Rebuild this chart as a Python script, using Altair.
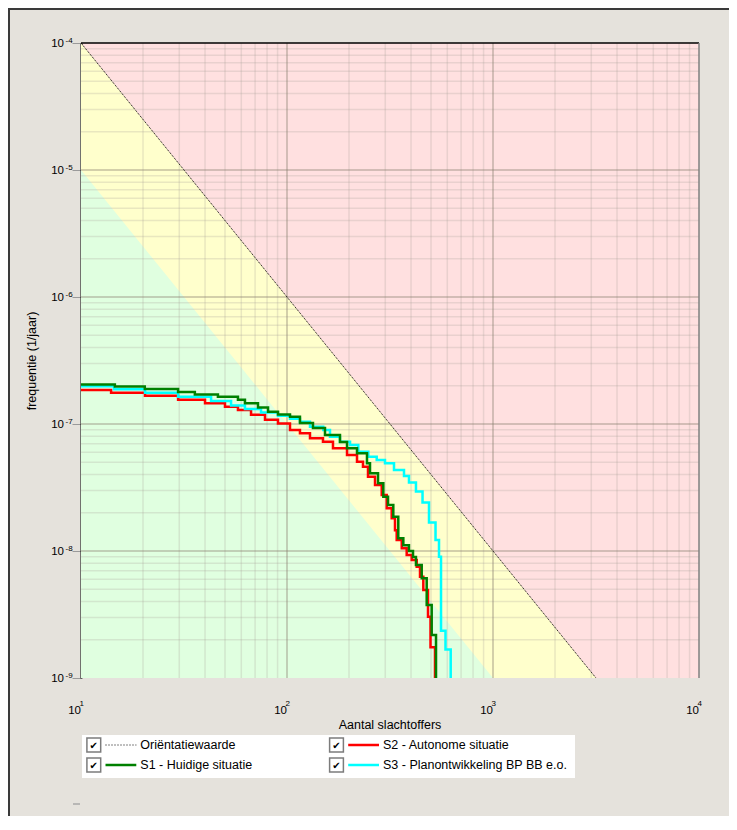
import altair as alt
import pandas as pd

# ---------------- data ----------------
# S1 - Huidige situatie (green)
s1_n = [10, 14.6, 20.4, 29.6, 35.7, 46.2, 57.8, 62.5, 72.3, 80.9,
        90.4, 103.4, 115.6, 133.7, 152.9, 180.8, 195.6, 218.7, 244.5, 252.9,
        276.6, 293.5, 309.3, 328.1, 346.9, 367.0, 390.9, 409.0, 422.7, 450.8,
        476.6, 504.0, 528.9]
s1_f = [2.05e-7, 1.97e-7, 1.89e-7, 1.79e-7, 1.71e-7, 1.64e-7, 1.55e-7, 1.46e-7, 1.35e-7, 1.25e-7,
        1.19e-7, 1.14e-7, 1.02e-7, 9.30e-8, 8.19e-8, 7.22e-8, 6.44e-8, 5.88e-8, 4.91e-8, 4.09e-8,
        3.41e-8, 2.68e-8, 2.30e-8, 1.86e-8, 1.26e-8, 1.11e-8, 1.00e-8, 8.97e-9, 7.76e-9, 6.10e-9,
        3.76e-9, 2.18e-9, 1e-10]

# S2 - Autonome situatie (red)
s2_n = [10, 14.0, 20.45, 29.6, 40.0, 50.0, 57.8, 66.9, 78.2, 90.4,
        103.4, 115.6, 129.3, 149.5, 167.2, 195.6, 218.7, 233.8, 247.3, 267.5,
        288.3, 304.8, 322.3, 334.4, 340.8, 360.6, 381.1, 403.0, 426.3, 442.3,
        458.9, 483.6, 497.3, 523.0]
s2_f = [1.85e-7, 1.76e-7, 1.67e-7, 1.55e-7, 1.46e-7, 1.37e-7, 1.29e-7, 1.18e-7, 1.08e-7, 1.01e-7,
        8.97e-8, 8.45e-8, 7.72e-8, 7.25e-8, 6.44e-8, 5.70e-8, 5.05e-8, 4.61e-8, 3.85e-8, 3.31e-8,
        2.76e-8, 2.17e-8, 1.81e-8, 1.46e-8, 1.22e-8, 1.05e-8, 9.30e-9, 8.49e-9, 7.52e-9, 6.27e-9,
        4.93e-9, 3.04e-9, 1.75e-9, 1e-10]

# S3 - Planontwikkeling BP BB e.o. (cyan)
s3_n = [10, 14.46, 20.45, 29.6, 42.8, 53.5, 62.5, 74.8, 90.4, 103.4,
        115.6, 129.3, 150.0, 161.7, 180.8, 202.3, 221.9, 248.1, 272.6, 299.0,
        330.7, 369.8, 391.0, 422.7, 454.9, 489.0, 526.0, 546.9, 559.3, 588.0,
        623.3]
s3_f = [1.98e-7, 1.88e-7, 1.76e-7, 1.64e-7, 1.52e-7, 1.40e-7, 1.31e-7, 1.23e-7, 1.16e-7, 1.10e-7,
        1.04e-7, 9.52e-8, 8.97e-8, 7.94e-8, 7.25e-8, 6.83e-8, 6.05e-8, 5.53e-8, 5.21e-8, 4.91e-8,
        4.34e-8, 3.90e-8, 3.46e-8, 2.94e-8, 2.41e-8, 1.68e-8, 1.22e-8, 9.02e-9, 2.36e-9, 1.68e-9,
        1e-10]

# Oriëntatiewaarde line and the lower (green zone) limit
band_n = [10, 10000]
orient_f = [1e-4, 1e-10]
lower_f = [1e-5, 1e-11]
floor_f = [1e-12, 1e-12]

# ticks / grid
x_ticks = [10, 100, 1000, 10000]
x_exp = ['1', '2', '3', '4']
y_ticks = [1e-4, 1e-5, 1e-6, 1e-7, 1e-8, 1e-9]
y_exp = ['-4', '-5', '-6', '-7', '-8', '-9']
x_major = [100, 1000]
x_minor = [k * d for d in (10, 100, 1000) for k in range(2, 10)]
y_major = [1e-8, 1e-7, 1e-6, 1e-5]
y_minor = [k * d for d in (1e-9, 1e-8, 1e-7, 1e-6, 1e-5) for k in range(2, 10)]

leg_names = ['Oriëntatiewaarde', 'S1 - Huidige situatie',
             'S2 - Autonome situatie', 'S3 - Planontwikkeling BP BB e.o.']
leg_colors = ['#000000', '#008000', '#ff0000', '#00ffff']

# ---------------- styling ----------------
W, H = 618, 635
FONT = 'Liberation Sans'
BG = '#e5e2dc'
PINK = '#ffe0e0'
YELLOW = '#ffffcc'
GREEN = '#e0ffe0'

xs = alt.Scale(type='log', domain=[10, 10000], nice=False)
ys = alt.Scale(type='log', domain=[1e-9, 1e-4], nice=False)
x_axis = alt.Axis(labels=False, ticks=False, domain=False, grid=False, title=None)
y_axis = alt.Axis(values=y_ticks, labels=False, grid=False, title=None,
                  domainColor='#000000', domainWidth=2,
                  tickColor='#9a9a9a', tickSize=9, tickWidth=1)


def X(f):
    return alt.X(f, type='quantitative', scale=xs, axis=x_axis)


def Y(f):
    return alt.Y(f, type='quantitative', scale=ys, axis=y_axis)


band_df = pd.DataFrame({'n': band_n, 'top': orient_f, 'low': lower_f, 'floor': floor_f})

yellow = alt.Chart(band_df).mark_area(color=YELLOW, clip=True).encode(
    x=X('n'), y=Y('top'), y2='floor')
green = alt.Chart(band_df).mark_area(color=GREEN, clip=True).encode(
    x=X('n'), y=Y('low'), y2='floor')

gx_minor = alt.Chart(pd.DataFrame({'v': x_minor})).mark_rule(
    color='#a89f96', opacity=0.25, strokeWidth=1.5).encode(x=X('v'))
gy_minor = alt.Chart(pd.DataFrame({'v': y_minor})).mark_rule(
    color='#a89f96', opacity=0.25, strokeWidth=1.5).encode(y=Y('v'))
gx_major = alt.Chart(pd.DataFrame({'v': x_major})).mark_rule(
    color='#8c7f72', opacity=0.5, strokeWidth=1.5).encode(x=X('v'))
gy_major = alt.Chart(pd.DataFrame({'v': y_major})).mark_rule(
    color='#8c7f72', opacity=0.5, strokeWidth=1.5).encode(y=Y('v'))

orient = alt.Chart(band_df).mark_line(color='#000000', strokeWidth=1,
                                      strokeDash=[1, 1], clip=True).encode(
    x=X('n'), y=Y('top'))

frame_top = alt.Chart().mark_rule(color='#000000', strokeWidth=1.3).encode(
    x=alt.value(0), x2=alt.value(W), y=alt.value(0))
frame_right = alt.Chart().mark_rule(color='#808080', strokeWidth=1.5).encode(
    x=alt.value(W), y=alt.value(0), y2=alt.value(H))


def curve(n, f, color):
    df = pd.DataFrame({'n': n, 'f': f})
    return alt.Chart(df).mark_line(interpolate='step-after', clip=True,
                                   color=color, strokeWidth=2.5).encode(
        x=X('n'), y=Y('f'))


c2 = curve(s2_n, s2_f, '#ff0000')
c3 = curve(s3_n, s3_f, '#00ffff')
c1 = curve(s1_n, s1_f, '#008000')

# tick labels: "10" with a small raised exponent
ydf = pd.DataFrame({'v': y_ticks, 'e': y_exp})
ylab = alt.Chart(ydf).mark_text(align='right', baseline='middle', font=FONT,
                                fontSize=11.5, dy=0.5, color='#000000').encode(
    y=Y('v'), x=alt.value(-17), text=alt.value('10'))
yexp = alt.Chart(ydf).mark_text(align='left', baseline='middle', font=FONT,
                                fontSize=8, dy=-2, color='#000000').encode(
    y=Y('v'), x=alt.value(-15.5), text='e:N')
xdf = pd.DataFrame({'v': x_ticks, 'e': x_exp})
xlab = alt.Chart(xdf).mark_text(align='right', baseline='middle', font=FONT,
                                fontSize=11.5, dx=0, color='#000000').encode(
    x=X('v'), y=alt.value(H + 33), text=alt.value('10'))
xexp = alt.Chart(xdf).mark_text(align='left', baseline='middle', font=FONT,
                                fontSize=8, dx=-1.5, color='#000000').encode(
    x=X('v'), y=alt.value(H + 26), text='e:N')

ytitle = alt.Chart().mark_text(text='frequentie (1/jaar)', angle=270, font=FONT,
                               fontSize=12.5, align='center', baseline='middle',
                               color='#000000').encode(
    x=alt.value(-49.5), y=alt.value(318))
xtitle = alt.Chart().mark_text(text='Aantal slachtoffers', font=FONT, fontSize=12.5,
                               align='center', baseline='middle', color='#000000').encode(
    x=alt.value(W / 2), y=alt.value(H + 47))

# legend (two columns, with check boxes)
leg_rows = []
for i, (name, colr) in enumerate(zip(leg_names, leg_colors)):
    c, r = divmod(i, 2)
    cx = 12.8 + 242.7 * c
    leg_rows.append(dict(label=name, color=colr, cx=cx, sx1=cx + 11.7, sx2=cx + 42.5,
                         tx=cx + 46.5, y=H + 67 + 20 * r, dotted=(i == 0)))
leg_df = pd.DataFrame(leg_rows)
LX = alt.X('cx:Q', scale=None)
LY = alt.Y('y:Q', scale=None)

leg_box = alt.Chart().mark_rect(fill='#ffffff').encode(
    x=alt.value(1), x2=alt.value(494), y=alt.value(H + 57), y2=alt.value(H + 100))
leg_check_box = alt.Chart(leg_df).mark_square(size=190, fill='#ffffff', stroke='#7c7c7c',
                                               strokeWidth=1.5, opacity=1).encode(x=LX, y=LY)
leg_check = alt.Chart(leg_df).mark_text(text='✔', font='DejaVu Sans', fontSize=10,
                                        color='#000000', dy=0.5).encode(x=LX, y=LY)
leg_solid = alt.Chart(leg_df[~leg_df['dotted']]).mark_rule(strokeWidth=2.5).encode(
    x=alt.X('sx1:Q', scale=None), x2='sx2:Q', y=LY, color=alt.Color('color:N', scale=None))
leg_dot = alt.Chart(leg_df[leg_df['dotted']]).mark_rule(strokeWidth=1, strokeDash=[1, 2],
                                                       color='#000000').encode(
    x=alt.X('sx1:Q', scale=None), x2='sx2:Q', y=LY)
leg_text = alt.Chart(leg_df).mark_text(align='left', baseline='middle', font=FONT,
                                       fontSize=12.5, color='#000000').encode(
    x=alt.X('tx:Q', scale=None), y=LY, text='label:N')

dash = alt.Chart().mark_rule(color='#a8a8a8', strokeWidth=1.5).encode(
    x=alt.value(-8), x2=alt.value(-1), y=alt.value(H + 126))
border_top = alt.Chart().mark_rule(color='#3a3a3a', strokeWidth=2).encode(
    x=alt.value(-73), x2=alt.value(W + 40), y=alt.value(-34))
border_left = alt.Chart().mark_rule(color='#3a3a3a', strokeWidth=2).encode(
    x=alt.value(-72), y=alt.value(-35), y2=alt.value(H + 160))

chart = alt.layer(
    yellow, green, gx_minor, gy_minor, gx_major, gy_major, orient,
    frame_top, frame_right, c2, c3, c1,
    ylab, yexp, xlab, xexp, ytitle, xtitle,
    leg_box, leg_check_box, leg_check, leg_solid, leg_dot, leg_text,
    dash, border_top, border_left,
).properties(
    width=W, height=H,
    autosize=alt.AutoSizeParams(type='none'),
    padding={'left': 73, 'top': 35, 'right': 30, 'bottom': 138},
    background=BG,
).configure_view(fill=PINK, strokeWidth=0)

chart.save('out.html', embed_options={'renderer': 'svg', 'actions': False})
